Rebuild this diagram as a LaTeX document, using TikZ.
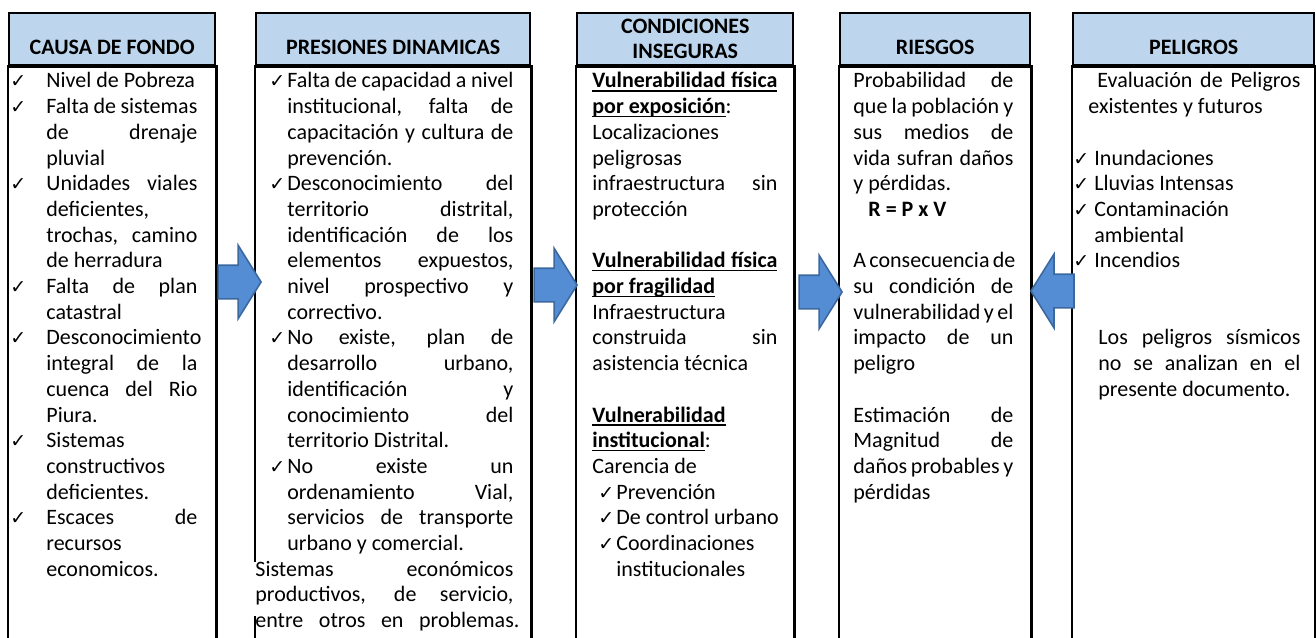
\documentclass[tikz,border=0pt]{standalone}
\usepackage{fontspec}
\setmainfont{Carlito}
\newfontfamily\chkfont{DejaVu Sans}
\usetikzlibrary{shapes.arrows}
\definecolor{headblue}{RGB}{189,214,238}
\definecolor{arrowblue}{RGB}{84,141,212}
\definecolor{arrowedge}{RGB}{60,104,160}
\newlength{\ckw}
\newcommand{\colset}[1]{\setlength{\ckw}{#1}\spaceskip=0pt\xspaceskip=0pt\relax}
\newcommand{\chk}{\makebox[\ckw][l]{\chkfont\fontsize{9.5}{9.5}\selectfont ✓}}
\newcommand{\jw}[2]{\makebox[\dimexpr\hsize-#1\relax][s]{\spaceskip=0pt\xspaceskip=0pt\relax#2}}
\newcommand{\ulin}[1]{\leavevmode\setbox0\hbox{#1}\rlap{\rule[-1.8pt]{\wd0}{0.7pt}}\box0}
\begin{document}
\begin{tikzpicture}[x=0.5pt,y=-0.5pt,
  headbox/.style={draw, line width=1.2pt, fill=headblue, minimum height=26pt, inner sep=0pt, anchor=north west,
    font=\bfseries\fontsize{11}{12.5}\selectfont, align=center},
  headone/.style={headbox, text height=15pt, text depth=0pt},
  frame/.style={draw, line width=1.2pt},
  body/.style={anchor=north west, inner sep=0pt, align=left, text height=7pt, font=\fontsize{11}{12.85}\selectfont},
  blockarrow/.style={single arrow, fill=arrowblue, draw=arrowedge, line width=0.8pt, minimum height=21.5pt,
    single arrow head extend=10pt, single arrow tip angle=116, inner xsep=0pt, inner ysep=8pt, anchor=tip}]
\useasboundingbox (0,0) rectangle (1316,637);

% headers
\node[headone, minimum width=103pt] (h1) at (8,12) {CAUSA DE FONDO};
\node[headone, minimum width=137pt] (h2) at (255,12) {PRESIONES DINAMICAS};
\node[headbox, minimum width=108pt] (h3) at (576,12) {CONDICIONES\\INSEGURAS};
\node[headone, minimum width=95pt] (h4) at (839,12) {RIESGOS};
\node[headone, minimum width=120.5pt] (h5) at (1072,12) {PELIGROS};

% column frames, cut off by the bounding box
\foreach \i in {1,...,5}
  \draw[frame] (h\i.south west) rectangle ([yshift=-300pt]h\i.south east);

% causa de fondo
\node[body, text width=93.5pt] (b1) at (10,73.5) {\colset{18pt}%
\chk Nivel de Pobreza\\
\chk\jw{\ckw}{Falta de sistemas}\\
\hspace*{\ckw}\jw{\ckw}{de drenaje}\\
\hspace*{\ckw}pluvial\\
\chk\jw{\ckw}{Unidades viales}\\
\hspace*{\ckw}deficientes,\\
\hspace*{\ckw}\jw{\ckw}{trochas, camino}\\
\hspace*{\ckw}de herradura\\
\chk\jw{\ckw}{Falta de plan}\\
\hspace*{\ckw}catastral\\
\chk Desconocimiento\\
\hspace*{\ckw}\jw{\ckw}{integral de la}\\
\hspace*{\ckw}\jw{\ckw}{cuenca del Rio}\\
\hspace*{\ckw}Piura.\\
\chk Sistemas\\
\hspace*{\ckw}constructivos\\
\hspace*{\ckw}deficientes.\\
\chk\jw{\ckw}{Escaces de}\\
\hspace*{\ckw}recursos\\
\hspace*{\ckw}economicos.};

% presiones dinamicas
\node[body, text width=122pt] (b2) at (269,73.5) {\colset{9pt}%
\chk\jw{\ckw}{Falta de capacidad a nivel}\\
\hspace*{\ckw}\jw{\ckw}{institucional, falta de}\\
\hspace*{\ckw}\jw{\ckw}{capacitación y cultura de}\\
\hspace*{\ckw}prevención.\\
\chk\jw{\ckw}{Desconocimiento del}\\
\hspace*{\ckw}\jw{\ckw}{territorio distrital,}\\
\hspace*{\ckw}\jw{\ckw}{identificación de los}\\
\hspace*{\ckw}\jw{\ckw}{elementos expuestos,}\\
\hspace*{\ckw}\jw{\ckw}{nivel prospectivo y}\\
\hspace*{\ckw}correctivo.\\
\chk\jw{\ckw}{No existe, plan de}\\
\hspace*{\ckw}\jw{\ckw}{desarrollo urbano,}\\
\hspace*{\ckw}\jw{\ckw}{identificación y}\\
\hspace*{\ckw}\jw{\ckw}{conocimiento del}\\
\hspace*{\ckw}territorio Distrital.\\
\chk\jw{\ckw}{No existe un}\\
\hspace*{\ckw}\jw{\ckw}{ordenamiento Vial,}\\
\hspace*{\ckw}\jw{\ckw}{servicios de transporte}\\
\hspace*{\ckw}urbano y comercial.};
\node[body, fill=white, inner xsep=2pt, text depth=20pt, text width=129pt] (b2b) at (251,561.8) {\colset{0pt}%
\jw{0pt}{Sistemas económicos}\\
\jw{0pt}{productivos, de servicio,}\\
\jw{-3pt}{entre otros en problemas.}};

% condiciones inseguras
\node[body, text width=92.5pt] (b3) at (592,73.5) {\colset{9pt}%
\ulin{\jw{0pt}{\bfseries Vulnerabilidad física}}\\
\ulin{\bfseries por exposición}:\\
Localizaciones\\
peligrosas\\
\jw{0pt}{infraestructura sin}\\
protección\\
\mbox{}\\
\ulin{\jw{0pt}{\bfseries Vulnerabilidad física}}\\
\ulin{\bfseries por fragilidad}\\
Infraestructura\\
\jw{0pt}{construida sin}\\
asistencia técnica\\
\mbox{}\\
\ulin{\bfseries Vulnerabilidad}\\
\ulin{\bfseries institucional}:\\
Carencia de\\
\hspace*{3pt}\chk Prevención\\
\hspace*{3pt}\chk\mbox{De control urbano}\\
\hspace*{3pt}\chk Coordinaciones\\
\hspace*{12pt}institucionales};

% riesgos
\node[body, text width=80pt] (b4) at (853,73.5) {\colset{0pt}%
\jw{0pt}{Probabilidad de}\\
\jw{0pt}{que la población y}\\
\jw{0pt}{sus medios de}\\
\jw{0pt}{vida sufran daños}\\
y pérdidas.\\
\hspace*{7.5pt}\textbf{R = P x V}\\
\mbox{}\\
\jw{0pt}{A consecuencia de}\\
\jw{0pt}{su condición de}\\
\jw{0pt}{vulnerabilidad y el}\\
\jw{0pt}{impacto de un}\\
peligro\\
\mbox{}\\
\jw{0pt}{Estimación de}\\
\jw{0pt}{Magnitud de}\\
\jw{0pt}{daños probables y}\\
pérdidas};

% peligros
\node[body, text width=113.5pt] (b5) at (1073,73.5) {\colset{10.5pt}%
\hspace*{12pt}\jw{12pt}{Evaluación de Peligros}\\
\hspace*{7.5pt}existentes y futuros\\
\mbox{}\\
\chk Inundaciones\\
\chk Lluvias Intensas\\
\chk Contaminación\\
\hspace*{\ckw}ambiental\\
\chk Incendios\\
\mbox{}\\
\mbox{}\\
\hspace*{12.5pt}\jw{12.5pt}{Los peligros sísmicos}\\
\hspace*{12.5pt}\jw{12.5pt}{no se analizan en el}\\
\hspace*{12.5pt}presente documento.};

% block arrows between the columns
\node[blockarrow] (a1) at (262,282) {};
\node[blockarrow] (a2) at (578,285) {};
\node[blockarrow] (a3) at (843,292) {};
\node[blockarrow, shape border rotate=180] (a4) at (1030,291) {};
\end{tikzpicture}
\end{document}
